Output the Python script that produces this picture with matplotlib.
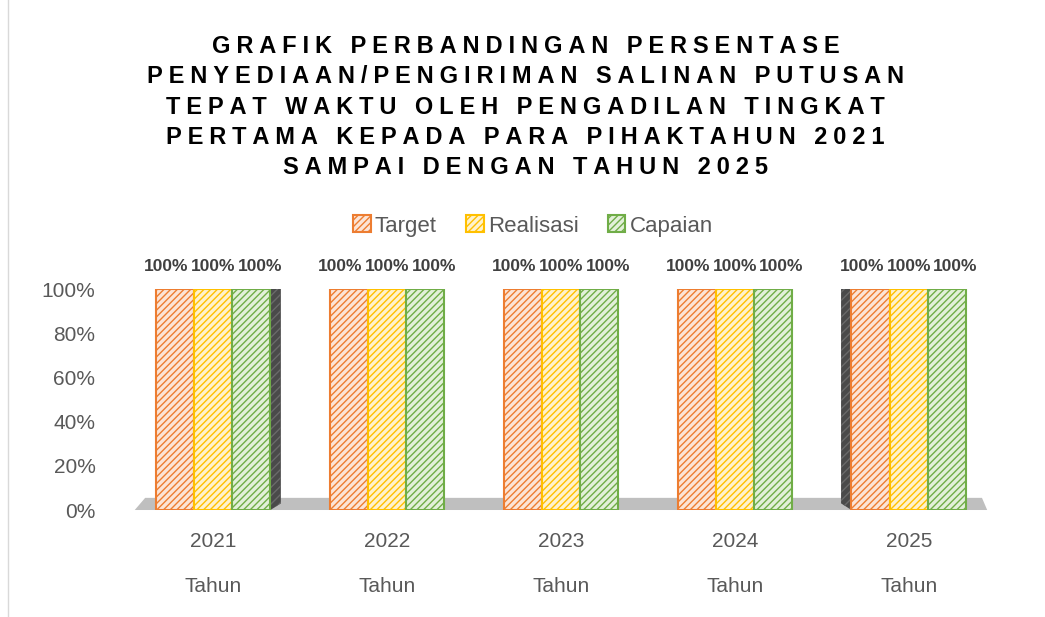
import numpy as np
import matplotlib.pyplot as plt
from matplotlib.lines import Line2D

years = ["2021", "2022", "2023", "2024", "2025"]
group_label = "Tahun"
series = ["Target", "Realisasi", "Capaian"]
target = [1.0, 1.0, 1.0, 1.0, 1.0]
realisasi = [1.0, 1.0, 1.0, 1.0, 1.0]
capaian = [1.0, 1.0, 1.0, 1.0, 1.0]
values = [target, realisasi, capaian]

title_lines = ["GRAFIK PERBANDINGAN PERSENTASE",
               "PENYEDIAAN/PENGIRIMAN SALINAN PUTUSAN",
               "TEPAT WAKTU OLEH PENGADILAN TINGKAT",
               "PERTAMA KEPADA PARA PIHAKTAHUN 2021",
               "SAMPAI DENGAN TAHUN 2025"]

edge_colors = ["#ED7D31", "#FFC000", "#70AD47"]
fill_colors = ["#FCE4D6", "#FFF2CC", "#E2F0D9"]
grey = "#595959"

plt.rcParams["font.family"] = ["Liberation Sans", "DejaVu Sans"]
fig = plt.figure(figsize=(10.45, 6.17), dpi=100)
ax = fig.add_axes([0.1206, 0.1734, 0.8324, 0.3582])

x = np.arange(len(years))
w = 0.22
offsets = [-w, 0, w]

# grey floor
fx0, fx1 = x[0] - 0.45, x[-1] + 0.45
ax.fill([fx0, fx1, fx1 - 0.03, fx0 + 0.06], [0, 0, 0.055, 0.055],
        color="#BFBFBF", zorder=0, clip_on=False, lw=0)

for i, s in enumerate(series):
    ax.bar(x + offsets[i], values[i], w, facecolor=fill_colors[i],
           edgecolor=edge_colors[i], hatch="/////", linewidth=1.5,
           label=s, zorder=2)
    for xi, v in zip(x + offsets[i] * 1.22, values[i]):
        ax.annotate("{:.0f}%".format(v * 100), (xi, v), xytext=(0, 11),
                    textcoords="offset points", ha="center", va="bottom",
                    fontsize=12.5, fontweight="bold", color="#404040")

# dark side faces from perspective
side = 0.06
ax.fill([x[0] + w * 1.5, x[0] + w * 1.5 + side, x[0] + w * 1.5 + side, x[0] + w * 1.5],
        [0, 0.03, 1.0, 1.0], color="#4a4a4a", zorder=1, lw=0, hatch="////", edgecolor="#6a6a6a")
ax.fill([x[-1] - w * 1.5, x[-1] - w * 1.5 - side, x[-1] - w * 1.5 - side, x[-1] - w * 1.5],
        [0, 0.03, 1.0, 1.0], color="#4a4a4a", zorder=1, lw=0, hatch="////", edgecolor="#6a6a6a")

ax.set_xlim(-0.5, len(years) - 0.5)
ax.set_ylim(0, 1)
ax.set_yticks([0, 0.2, 0.4, 0.6, 0.8, 1.0])
ax.set_yticklabels(["0%", "20%", "40%", "60%", "80%", "100%"])
ax.set_xticks(x)
ax.set_xticklabels(years)
ax.tick_params(axis="both", length=0, labelsize=15, labelcolor=grey)
ax.tick_params(axis="x", pad=16)
ax.tick_params(axis="y", pad=22)
for sp in ax.spines.values():
    sp.set_visible(False)

for xi in x:
    ax.annotate(group_label, (xi, 0), xycoords=("data", "axes fraction"),
                xytext=(0, -55), textcoords="offset points", ha="center",
                va="center", fontsize=15, color=grey)

leg = ax.legend(loc="center", ncol=3, frameon=False, fontsize=16,
                handlelength=0.8, handleheight=0.8, handletextpad=0.2,
                columnspacing=1.3, labelcolor=grey)
leg.set_bbox_to_anchor((0.51, 1 - 226 / 617), transform=fig.transFigure)

spaced = ["\u2005".join(list(t)) for t in title_lines]
fig.text(0.503, 1 - 107 / 617, "\n".join(spaced), ha="center", va="center",
         fontsize=17, fontweight="bold", color="black", linespacing=1.4)

fig.add_artist(Line2D([8 / 1045, 8 / 1045], [0, 1], color="#D9D9D9", lw=1,
                      transform=fig.transFigure))

fig.savefig("out.png", dpi=100)
